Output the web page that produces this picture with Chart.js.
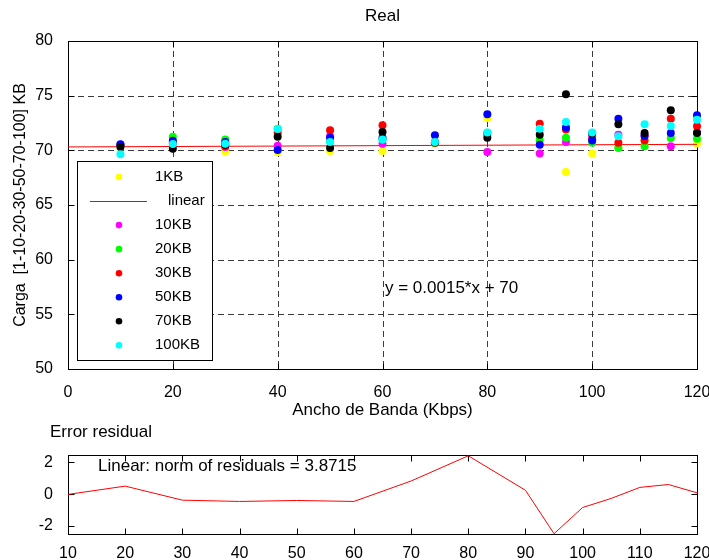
<!DOCTYPE html>
<html><head><meta charset="utf-8">
<script src="https://cdn.jsdelivr.net/npm/chart.js@4"></script>
<style>
html,body{margin:0;padding:0;background:#fff;}
#wrap{position:relative;width:709px;height:560px;overflow:hidden;background:#fff;}
#c1{position:absolute;left:0;top:0;}
#c2{position:absolute;left:0;top:415px;}
</style></head><body>
<div id="wrap">
<canvas id="c1" width="709" height="425"></canvas>
<canvas id="c2" width="709" height="145"></canvas>
</div>
<script>
const FONT = '"Liberation Sans", Arial, Helvetica, sans-serif';

// ---- data ----
const bandwidth = [10, 20, 30, 40, 50, 60, 70, 80, 90, 95, 100, 105, 110, 115, 120];
const load1KB   = [70.30, 70.85, 69.90, 69.85, 69.95, 69.95, 71.30, 72.95, 70.85, 68.02, 69.72, 70.25, 70.95, 71.15, 70.63];
const load10KB  = [70.45, 70.70, 70.30, 70.43, 71.28, 70.60, 70.70, 69.85, 69.70, 70.76, 71.22, 71.43, 71.35, 70.37, 71.60];
const load20KB  = [70.45, 71.25, 71.00, 71.98, 70.80, 71.00, 70.65, 71.60, 70.95, 71.16, 70.70, 70.21, 70.37, 71.13, 71.07];
const load30KB  = [70.50, 70.70, 70.40, 71.60, 71.83, 72.29, 70.70, 71.50, 72.44, 71.90, 71.00, 70.70, 70.91, 72.90, 72.20];
const load50KB  = [70.55, 70.88, 70.76, 70.03, 71.16, 71.16, 71.37, 73.29, 70.52, 72.08, 70.91, 72.90, 71.31, 71.59, 73.20];
const load70KB  = [70.30, 70.15, 70.50, 71.25, 70.21, 71.68, 70.75, 71.16, 71.43, 75.12, 71.55, 72.38, 71.59, 73.66, 71.59];
const load100KB = [69.65, 70.58, 70.60, 71.95, 70.76, 70.98, 70.76, 71.62, 71.98, 72.59, 71.62, 71.28, 72.38, 72.22, 72.80];
const fitX = [0, 120];
const fitY = [70.31, 70.55];
const residuals = [-0.02, 0.50, -0.38, -0.46, -0.40, -0.46, 0.82, 2.40, 0.24, -2.48, -0.84, -0.27, 0.42, 0.60, 0.08];

const xTicksTop = [0, 20, 40, 60, 80, 100, 120];
const yTicksTop = [50, 55, 60, 65, 70, 75, 80];
const xTicksBottom = [10, 20, 30, 40, 50, 60, 70, 80, 90, 100, 110, 120];
const yTicksBottom = [-2, 0, 2];

const seriesLabels = ['1KB', 'linear', '10KB', '20KB', '30KB', '50KB', '70KB', '100KB'];
const seriesColors = ['#ffff00', '#ff0000', '#ff00ff', '#00ff00', '#ff0000', '#0000ff', '#000000', '#00ffff'];

const titleText = 'Real';
const xTitle = 'Ancho de Banda (Kbps)';
const yTitle = 'Carga  [1-10-20-30-50-70-100] KB';
const eqText = 'y = 0.0015*x + 70';
const resTitle = 'Error residual';
const normText = 'Linear: norm of residuals = 3.8715';

// ---- helpers ----
const pts = (xs, ys) => xs.map((x, i) => ({x: x, y: ys[i]}));
const setTicks = arr => scale => { scale.ticks = arr.map(v => ({value: v})); };

function framePlugin(cfg) {
  return {
    id: 'frame',
    beforeDatasetsDraw(chart) {
      const {ctx, chartArea: a, scales: {x, y}} = chart;
      ctx.save();
      if (cfg.gridX.length || cfg.gridY.length) {
        ctx.strokeStyle = '#3a3a3a'; ctx.lineWidth = 1; ctx.setLineDash([6, 4]);
        ctx.beginPath();
        cfg.gridX.forEach(v => { const px = Math.round(x.getPixelForValue(v)) + 0.5; ctx.moveTo(px, a.top); ctx.lineTo(px, a.bottom); });
        cfg.gridY.forEach(v => { const py = Math.round(y.getPixelForValue(v)) + 0.5; ctx.moveTo(a.left, py); ctx.lineTo(a.right, py); });
        ctx.stroke();
      }
      ctx.setLineDash([]);
      ctx.strokeStyle = '#000'; ctx.lineWidth = 1;
      const L = Math.round(a.left) + 0.5, R = Math.round(a.right) + 0.5, T = Math.round(a.top) + 0.5, B = Math.round(a.bottom) + 0.5;
      ctx.strokeRect(L, T, R - L, B - T);
      const tl = 6;
      ctx.beginPath();
      cfg.ticksX.forEach(v => { const px = Math.round(x.getPixelForValue(v)) + 0.5; ctx.moveTo(px, B); ctx.lineTo(px, B - tl); ctx.moveTo(px, T); ctx.lineTo(px, T + tl); });
      cfg.ticksY.forEach(v => { const py = Math.round(y.getPixelForValue(v)) + 0.5; ctx.moveTo(L, py); ctx.lineTo(L + tl, py); ctx.moveTo(R, py); ctx.lineTo(R - tl, py); });
      ctx.stroke();
      ctx.restore();
    }
  };
}

function textPlugin(items) {
  return {
    id: 'texts',
    afterDraw(chart) {
      const ctx = chart.ctx;
      ctx.save();
      ctx.fillStyle = '#000';
      ctx.textBaseline = 'middle';
      items.forEach(it => {
        ctx.font = it.size + 'px ' + FONT;
        ctx.textAlign = it.align || 'left';
        const px = typeof it.x === 'function' ? it.x(chart) : it.x;
        ctx.fillText(it.text, px, it.y);
      });
      ctx.restore();
    }
  };
}

const legendPlugin = {
  id: 'boxLegend',
  afterDraw(chart) {
    const ctx = chart.ctx;
    ctx.save();
    ctx.fillStyle = '#fff';
    ctx.fillRect(77.5, 161.5, 135, 199);
    ctx.strokeStyle = '#000'; ctx.lineWidth = 1;
    ctx.strokeRect(77.5, 161.5, 135, 199);
    ctx.font = '15px ' + FONT;
    ctx.textBaseline = 'middle'; ctx.textAlign = 'left';
    chart.data.datasets.forEach((ds, i) => {
      const yy = 177 + i * 24.05;
      if (ds.showLine) {
        ctx.strokeStyle = ds.borderColor; ctx.lineWidth = 1;
        ctx.beginPath(); ctx.moveTo(90, Math.round(yy) + 0.5); ctx.lineTo(147, Math.round(yy) + 0.5); ctx.stroke();
        ctx.fillStyle = '#000'; ctx.fillText(ds.label, 168, yy);
      } else {
        ctx.fillStyle = ds.backgroundColor;
        ctx.beginPath(); ctx.arc(119, yy, 3.3, 0, Math.PI * 2); ctx.fill();
        ctx.fillStyle = '#000'; ctx.fillText(ds.label, 155, yy);
      }
    });
    ctx.restore();
  }
};

Chart.defaults.color = '#000';
Chart.defaults.font.family = FONT;

const seriesValues = [load1KB, null, load10KB, load20KB, load30KB, load50KB, load70KB, load100KB];
const datasets1 = seriesLabels.map((lab, i) => {
  if (i === 1) {
    return {label: lab, data: pts(fitX, fitY), showLine: true, borderColor: seriesColors[i], backgroundColor: seriesColors[i],
            borderWidth: 1, pointRadius: 0, order: 20 - i, clip: false};
  }
  return {label: lab, data: pts(bandwidth, seriesValues[i]), showLine: false, backgroundColor: seriesColors[i],
          borderWidth: 0, pointRadius: 4, pointBorderWidth: 0, order: 20 - i, clip: false};
});

new Chart(document.getElementById('c1'), {
  type: 'scatter',
  data: {datasets: datasets1},
  options: {
    responsive: false, animation: false, devicePixelRatio: 1,
    layout: {padding: {left: 0, right: 12, top: 41, bottom: 0}},
    plugins: {legend: {display: false}, tooltip: {enabled: false}, title: {display: false}},
    scales: {
      x: {
        type: 'linear', min: 0, max: 120,
        afterBuildTicks: setTicks(xTicksTop),
        afterFit: s => { s.height = 56; s.paddingLeft = 0; s.paddingRight = 0; },
        grid: {display: false}, border: {display: false},
        ticks: {font: {size: 16}, padding: 6, maxRotation: 0},
        title: {display: true, text: xTitle, font: {size: 17}, padding: {top: 0, bottom: 4}}
      },
      y: {
        type: 'linear', min: 50, max: 80,
        afterBuildTicks: setTicks(yTicksTop),
        afterFit: s => { s.width = 68; s.paddingTop = 0; s.paddingBottom = 0; },
        grid: {display: false}, border: {display: false},
        ticks: {font: {size: 16}, padding: 7},
        title: {display: true, text: yTitle, font: {size: 16}, padding: {top: 11, bottom: 0}}
      }
    }
  },
  plugins: [
    framePlugin({gridX: [20, 40, 60, 80, 100], gridY: [55, 60, 65, 70, 75], ticksX: xTicksTop, ticksY: yTicksTop}),
    legendPlugin,
    textPlugin([
      {text: titleText, size: 17, align: 'center', x: c => (c.chartArea.left + c.chartArea.right) / 2, y: 16},
      {text: eqText, size: 17, align: 'left', x: 385, y: 288}
    ])
  ]
});

new Chart(document.getElementById('c2'), {
  type: 'scatter',
  data: {datasets: [{label: 'residuals', data: pts(bandwidth, residuals), showLine: true, borderColor: '#ff0000',
                     backgroundColor: '#ff0000', borderWidth: 1, pointRadius: 0, clip: false}]},
  options: {
    responsive: false, animation: false, devicePixelRatio: 1,
    layout: {padding: {left: 0, right: 12, top: 40, bottom: 0}},
    plugins: {legend: {display: false}, tooltip: {enabled: false}},
    scales: {
      x: {
        type: 'linear', min: 10, max: 120,
        afterBuildTicks: setTicks(xTicksBottom),
        afterFit: s => { s.height = 26; s.paddingLeft = 0; s.paddingRight = 0; },
        grid: {display: false}, border: {display: false},
        ticks: {font: {size: 16}, padding: 2, maxRotation: 0}
      },
      y: {
        type: 'linear', min: -2.5, max: 2.45,
        afterBuildTicks: setTicks(yTicksBottom),
        afterFit: s => { s.width = 68; s.paddingTop = 0; s.paddingBottom = 0; },
        grid: {display: false}, border: {display: false},
        ticks: {font: {size: 16}, padding: 7}
      }
    }
  },
  plugins: [
    framePlugin({gridX: [], gridY: [], ticksX: xTicksBottom, ticksY: yTicksBottom}),
    textPlugin([
      {text: resTitle, size: 17, align: 'left', x: 50, y: 17},
      {text: normText, size: 17, align: 'left', x: 98, y: 51}
    ])
  ]
});
</script>
</body></html>
